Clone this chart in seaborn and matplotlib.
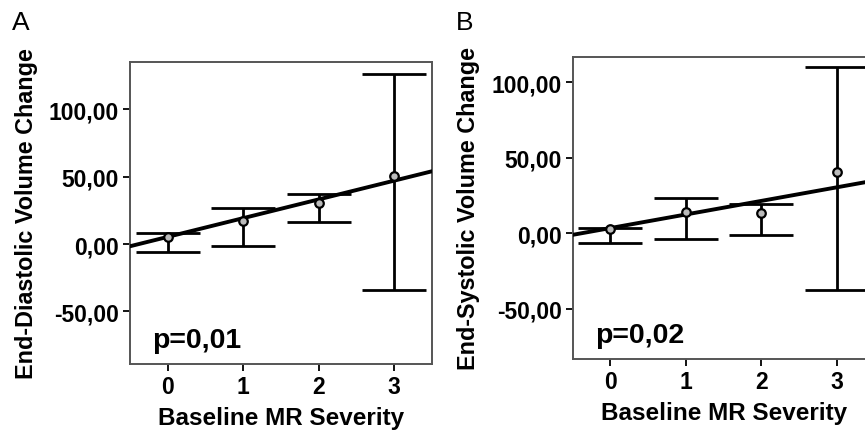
import numpy as np
import pandas as pd
import matplotlib.pyplot as plt
import seaborn as sns

severity = [0, 1, 2, 3]

# panel A: end-diastolic volume change
edv_mean = [5.2, 16.9, 30.5, 50.8]
edv_low = [-6.2, -1.7, 16.0, -34.2]
edv_high = [8.0, 26.7, 37.0, 126.3]
edv_fit = [5.3, 13.9]  # intercept, slope

# panel B: end-systolic volume change
esv_mean = [2.9, 14.3, 13.3, 40.5]
esv_low = [-6.2, -3.6, -1.1, -37.4]
esv_high = [3.3, 23.0, 19.4, 110.0]
esv_fit = [3.4, 9.0]

ytick_vals = [-50, 0, 50, 100]
ytick_labels = ['-50,00', '0,00', '50,00', '100,00']

sns.set_style('white')
plt.rcParams['font.family'] = ['Liberation Sans', 'DejaVu Sans']
plt.rcParams['text.color'] = 'black'
plt.rcParams['axes.labelcolor'] = 'black'
plt.rcParams['xtick.color'] = 'black'
plt.rcParams['ytick.color'] = 'black'

fig = plt.figure(figsize=(8.65, 4.31), dpi=100)
ax_a = fig.add_axes([0.1503, 0.1531, 0.349, 0.7007])
ax_b = fig.add_axes([0.662, 0.1647, 0.349, 0.7015])


def draw_panel(ax, mean, low, high, fit, ylim, ylabel, ptext):
    df = pd.DataFrame({'sev': severity, 'mean': mean, 'low': low, 'high': high})
    err = np.vstack([df['mean'] - df['low'], df['high'] - df['mean']])
    ax.errorbar(df['sev'], df['mean'], yerr=err, fmt='none', ecolor='black',
                elinewidth=2.0, capsize=23, capthick=2.0, zorder=2)
    xs = np.array([-0.5, 3.5])
    line = pd.DataFrame({'x': xs, 'y': fit[0] + fit[1] * xs})
    sns.lineplot(data=line, x='x', y='y', ax=ax, color='black', linewidth=2.8, zorder=3)
    sns.scatterplot(data=df, x='sev', y='mean', ax=ax, s=38, color='#bbbbbb',
                    edgecolor='black', linewidth=1.6, zorder=4)
    ax.set_xlim(-0.5, 3.5)
    ax.set_ylim(*ylim)
    ax.set_xticks(severity)
    ax.set_xticklabels([str(s) for s in severity])
    ax.set_yticks(ytick_vals)
    ax.set_yticklabels(ytick_labels)
    ax.tick_params(axis='both', direction='out', length=5, width=1.3, color='black',
                   labelcolor='black', labelsize=16.5, pad=3, left=True, bottom=True)
    for lab in ax.get_xticklabels() + ax.get_yticklabels():
        lab.set_fontweight('bold')
    for sp in ax.spines.values():
        sp.set_color('#555555')
        sp.set_linewidth(1.4)
    ax.set_xlabel('Baseline MR Severity', fontsize=17.5, fontweight='bold', labelpad=6)
    ax.set_ylabel(ylabel, fontsize=16.8, fontweight='bold', labelpad=8)
    ax.text(0.073, 0.056, ptext, transform=ax.transAxes, fontsize=20.5,
            fontweight='bold', ha='left', va='baseline')


draw_panel(ax_a, edv_mean, edv_low, edv_high, edv_fit, (-89, 135),
           'End-Diastolic Volume Change', 'p=0,01')
draw_panel(ax_b, esv_mean, esv_low, esv_high, esv_fit, (-83.4, 117),
           'End-Systolic Volume Change', 'p=0,02')

fig.text(12 / 865, 1 - 35 / 431, 'A', fontsize=19, ha='left', va='bottom')
fig.text(456 / 865, 1 - 35 / 431, 'B', fontsize=19, ha='left', va='bottom')

plt.savefig('out.png', dpi=100)
